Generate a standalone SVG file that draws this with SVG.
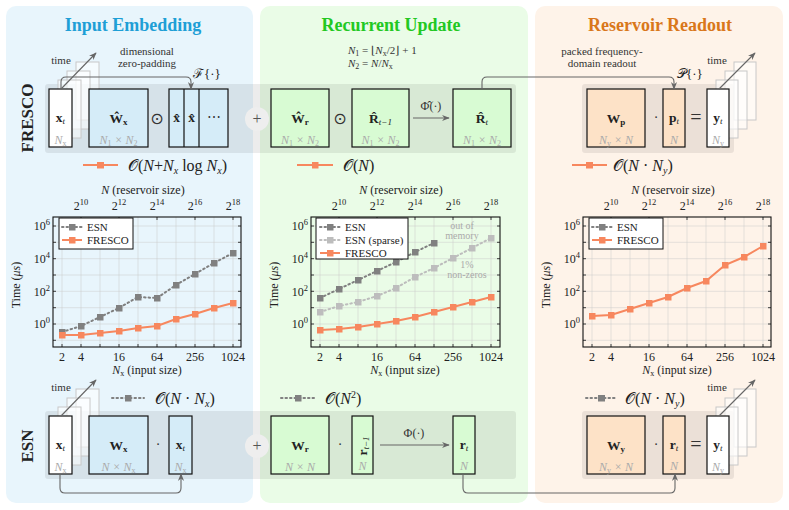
<svg xmlns="http://www.w3.org/2000/svg" width="789" height="510" viewBox="0 0 789 510">
<style>
text{font-family:"Liberation Serif","DejaVu Serif",serif;fill:#222}
.title{font-size:18px;font-weight:bold;text-anchor:middle}
.row{font-size:17px;font-weight:bold;text-anchor:middle}
.lbl{font-size:11px;fill:#333}
.sym{font-size:13.5px;font-weight:bold;text-anchor:middle}
.sub{font-size:9px;font-weight:normal;font-style:italic}
.subb{font-size:9px;font-weight:bold}
.dim{font-size:12px;font-style:italic;fill:#aaa;text-anchor:middle}
.ds{font-size:8px;font-style:normal}
.op{font-size:14px;text-anchor:middle;fill:#333}
.odot{font-family:"DejaVu Sans",sans-serif;font-size:16px;text-anchor:middle;fill:#333}
.cx{font-size:16px;fill:#222}
.it{font-style:italic}
.cs{font-size:10px;font-style:italic}
.tk{font-size:12px}
.tkm{font-size:12px;text-anchor:middle}
.sup{font-size:8.5px}
.leg{font-size:11px}
.ann{font-size:10px;fill:#aaa;text-anchor:middle}
.box{stroke:#111;stroke-width:1.2}
.bw{fill:#fff}
.bb{fill:#d5ecf8}
.bg{fill:#d8fbd3}
.bo{fill:#fde2c7}
.ghost{fill:#fff;fill-opacity:.55;stroke:#c8c8c8;stroke-width:1}
.band{fill:#000;fill-opacity:.075}
.conn{fill:none;stroke:#666;stroke-width:1.1}
.grid{fill:none;stroke:#c9c9c9;stroke-opacity:.6;stroke-width:.8}
.frame{fill:none;stroke:#111;stroke-width:1.1}
.tick{fill:none;stroke:#111;stroke-width:.8}
.fr{fill:none;stroke:#f7875e;stroke-width:2}
.esn{fill:none;stroke:#808080;stroke-width:2;stroke-dasharray:1.5 3;stroke-linecap:round}
.esp{fill:none;stroke:#bdbdbd;stroke-width:2;stroke-dasharray:1.5 3;stroke-linecap:round}
.lgbox{fill:#fff;stroke:#111;stroke-width:1}
</style>
<defs>
<marker id="arr" viewBox="0 0 10 10" refX="9" refY="5" markerWidth="7" markerHeight="7" orient="auto"><path d="M0,1 L10,5 L0,9 L3,5 z" fill="#666"/></marker>
<marker id="mO" viewBox="0 0 8 8" refX="4" refY="4" markerWidth="7" markerHeight="7" markerUnits="userSpaceOnUse"><rect width="8" height="8" fill="#f7875e"/></marker>
<marker id="mE" viewBox="0 0 8 8" refX="4" refY="4" markerWidth="7" markerHeight="7" markerUnits="userSpaceOnUse"><rect width="8" height="8" fill="#808080"/></marker>
<marker id="mS" viewBox="0 0 8 8" refX="4" refY="4" markerWidth="7" markerHeight="7" markerUnits="userSpaceOnUse"><rect width="8" height="8" fill="#bdbdbd"/></marker>
</defs>

<!-- panels -->
<g id="panels">
<rect x="6" y="6" width="247" height="497" rx="10" fill="#e8f5fc"/>
<rect x="260" y="6" width="268" height="497" rx="10" fill="#eafce7"/>
<rect x="535" y="6" width="248" height="497" rx="10" fill="#fef3e9"/>
<text class="title" x="133" y="31" style="fill:#1e9fd6">Input Embedding</text>
<text class="title" x="391" y="31" style="fill:#22c822">Recurrent Update</text>
<text class="title" x="660" y="31" style="fill:#d9771a">Reservoir Readout</text>
</g>

<!-- bands -->
<g id="bands">
<rect class="band" x="45" y="84" width="471" height="69" rx="3"/>
<rect class="band" x="582" y="84" width="152" height="69" rx="3"/>
<rect class="band" x="45" y="411" width="471" height="68" rx="3"/>
<rect class="band" x="582" y="411" width="152" height="68" rx="3"/>
<circle cx="257" cy="119" r="12" fill="#eeeeee"/>
<text x="257" y="124" class="op" style="fill:#555;font-size:16px">+</text>
<circle cx="257" cy="446" r="12" fill="#eeeeee"/>
<text x="257" y="451" class="op" style="fill:#555;font-size:16px">+</text>
</g>

<text class="row" transform="translate(33,118) rotate(-90)">FRESCO</text>
<text class="row" transform="translate(33,446) rotate(-90)">ESN</text>

<!-- FRESCO row -->
<g id="fresco-xt">
<rect class="ghost" x="76" y="62" width="23" height="58"/>
<rect class="ghost" x="67" y="71" width="23" height="58"/>
<rect class="ghost" x="58" y="80" width="23" height="58"/>
<rect class="box bw" x="49" y="89" width="23" height="58"/>
<text class="sym" x="60.5" y="122">x<tspan class="sub" dy="2">t</tspan></text>
<text class="dim" x="60.5" y="144">N<tspan class="ds" dy="2">x</tspan></text>
<text class="lbl" x="61" y="64" text-anchor="middle">time</text>
</g>
<g id="fresco-Wx">
<rect class="box bb" x="89" y="89" width="59" height="58"/>
<text class="sym" x="118.5" y="123">Ŵ<tspan class="subb" dy="2">x</tspan></text>
<text class="dim" x="118.5" y="144">N<tspan class="ds" dy="2">1</tspan><tspan dy="-2"> × N</tspan><tspan class="ds" dy="2">2</tspan></text>
</g>
<text class="odot" x="157" y="124">⊙</text>
<g id="fresco-xhat">
<rect class="box bb" x="169" y="89" width="59" height="58"/>
<path d="M184,89V147M199,89V147" stroke="#111" stroke-width="1.2"/>
<text class="sym" x="176.5" y="122">x̂</text>
<text class="sym" x="191.5" y="122">x̂</text>
<text class="op" x="213.5" y="122">⋯</text>
</g>
<text class="lbl" x="147" y="55" text-anchor="middle">dimensional</text>
<text class="lbl" x="147" y="67" text-anchor="middle">zero-padding</text>
<text class="cx" x="193" y="78" style="font-size:13px">ℱ{·}</text>

<g id="fresco-Wr">
<rect class="box bg" x="271" y="89" width="58" height="58"/>
<text class="sym" x="300" y="123">Ŵ<tspan class="subb" dy="2">r</tspan></text>
<text class="dim" x="300" y="144">N<tspan class="ds" dy="2">1</tspan><tspan dy="-2"> × N</tspan><tspan class="ds" dy="2">2</tspan></text>
</g>
<text class="odot" x="340" y="124">⊙</text>
<g id="fresco-Rprev">
<rect class="box bg" x="352" y="89" width="57" height="58"/>
<text class="sym" x="380.5" y="123">R̂<tspan class="sub" dy="2">t−1</tspan></text>
<text class="dim" x="380.5" y="144">N<tspan class="ds" dy="2">1</tspan><tspan dy="-2"> × N</tspan><tspan class="ds" dy="2">2</tspan></text>
</g>
<text class="lbl" x="431" y="110" text-anchor="middle" style="font-size:12px">Φ̂(·)</text>
<g id="fresco-Rt">
<rect class="box bg" x="453" y="89" width="58" height="58"/>
<text class="sym" x="482" y="123">R̂<tspan class="sub" dy="2">t</tspan></text>
<text class="dim" x="482" y="144">N<tspan class="ds" dy="2">1</tspan><tspan dy="-2"> × N</tspan><tspan class="ds" dy="2">2</tspan></text>
</g>
<text class="lbl" x="348" y="54"><tspan class="it">N</tspan><tspan class="ds" dy="2">1</tspan><tspan dy="-2"> = ⌊</tspan><tspan class="it">N</tspan><tspan class="ds" dy="2">x</tspan><tspan dy="-2">/2⌋ + 1</tspan></text>
<text class="lbl" x="348" y="67"><tspan class="it">N</tspan><tspan class="ds" dy="2">2</tspan><tspan dy="-2"> = </tspan><tspan class="it">N</tspan>/<tspan class="it">N</tspan><tspan class="ds" dy="2">x</tspan></text>

<g id="fresco-Wp">
<rect class="box bo" x="587" y="89" width="58" height="58"/>
<text class="sym" x="616" y="123">W<tspan class="subb" dy="2">p</tspan></text>
<text class="dim" x="616" y="144">N<tspan class="ds" dy="2">y</tspan><tspan dy="-2"> × N</tspan></text>
</g>
<text class="op" x="656" y="122">·</text>
<g id="fresco-pt">
<rect class="box bo" x="663" y="89" width="22" height="58"/>
<text class="sym" x="674" y="122">p<tspan class="sub" dy="2">t</tspan></text>
<text class="dim" x="674" y="144">N</text>
</g>
<text class="op" x="696" y="124" style="font-size:20px">=</text>
<g id="fresco-yt">
<rect class="ghost" x="734" y="62" width="22" height="58"/>
<rect class="ghost" x="725" y="71" width="22" height="58"/>
<rect class="ghost" x="716" y="80" width="22" height="58"/>
<rect class="box bw" x="707" y="89" width="22" height="58"/>
<text class="sym" x="718" y="122">y<tspan class="sub" dy="2">t</tspan></text>
<text class="dim" x="718" y="144">N<tspan class="ds" dy="2">y</tspan></text>
<text class="lbl" x="717" y="64" text-anchor="middle">time</text>
</g>
<text class="lbl" x="602" y="55" text-anchor="middle">packed frequency-</text>
<text class="lbl" x="602" y="67" text-anchor="middle">domain readout</text>
<text class="cx" x="677" y="78" style="font-size:13px">𝒫{·}</text>

<!-- ESN row -->
<g id="esn-xt">
<rect class="ghost" x="76" y="389" width="23" height="58"/>
<rect class="ghost" x="67" y="398" width="23" height="58"/>
<rect class="ghost" x="58" y="407" width="23" height="58"/>
<rect class="box bw" x="49" y="416" width="23" height="58"/>
<text class="sym" x="60.5" y="449">x<tspan class="sub" dy="2">t</tspan></text>
<text class="dim" x="60.5" y="471">N<tspan class="ds" dy="2">x</tspan></text>
<text class="lbl" x="61" y="391" text-anchor="middle">time</text>
</g>
<g id="esn-Wx">
<rect class="box bb" x="89" y="416" width="59" height="58"/>
<text class="sym" x="118.5" y="450">W<tspan class="subb" dy="2">x</tspan></text>
<text class="dim" x="118.5" y="471">N × N<tspan class="ds" dy="2">x</tspan></text>
</g>
<text class="op" x="158" y="449">·</text>
<g id="esn-xt2">
<rect class="box bb" x="169" y="416" width="23" height="58"/>
<text class="sym" x="180.5" y="449">x<tspan class="sub" dy="2">t</tspan></text>
<text class="dim" x="180.5" y="471">N<tspan class="ds" dy="2">x</tspan></text>
</g>
<g id="esn-Wr">
<rect class="box bg" x="271" y="416" width="58" height="58"/>
<text class="sym" x="300" y="450">W<tspan class="subb" dy="2">r</tspan></text>
<text class="dim" x="300" y="471">N × N</text>
</g>
<text class="op" x="340" y="449">·</text>
<g id="esn-rprev">
<rect class="box bg" x="352" y="416" width="21" height="58"/>
<text class="sym" transform="translate(366.5,446) rotate(-90)">r<tspan class="sub" dy="2">t−1</tspan></text>
<text class="dim" x="362.5" y="470">N</text>
</g>
<text class="lbl" x="414" y="437" text-anchor="middle" style="font-size:12px">Φ(·)</text>
<g id="esn-rt">
<rect class="box bg" x="453" y="416" width="22" height="58"/>
<text class="sym" x="464" y="449">r<tspan class="sub" dy="2">t</tspan></text>
<text class="dim" x="464" y="470">N</text>
</g>
<g id="esn-Wy">
<rect class="box bo" x="587" y="416" width="58" height="58"/>
<text class="sym" x="616" y="450">W<tspan class="subb" dy="2">y</tspan></text>
<text class="dim" x="616" y="471">N<tspan class="ds" dy="2">y</tspan><tspan dy="-2"> × N</tspan></text>
</g>
<text class="op" x="656" y="449">·</text>
<g id="esn-rt2">
<rect class="box bo" x="663" y="416" width="22" height="58"/>
<text class="sym" x="674" y="449">r<tspan class="sub" dy="2">t</tspan></text>
<text class="dim" x="674" y="470">N</text>
</g>
<text class="op" x="696" y="451" style="font-size:20px">=</text>
<g id="esn-yt">
<rect class="ghost" x="734" y="389" width="22" height="58"/>
<rect class="ghost" x="725" y="398" width="22" height="58"/>
<rect class="ghost" x="716" y="407" width="22" height="58"/>
<rect class="box bw" x="707" y="416" width="22" height="58"/>
<text class="sym" x="718" y="449">y<tspan class="sub" dy="2">t</tspan></text>
<text class="dim" x="718" y="471">N<tspan class="ds" dy="2">y</tspan></text>
<text class="lbl" x="717" y="391" text-anchor="middle">time</text>
</g>

<!-- connectors -->
<g id="connectors">
<path class="conn" d="M61,89L96,53" marker-end="url(#arr)"/>
<path class="conn" d="M719,89L755,53" marker-end="url(#arr)"/>
<path class="conn" d="M61,416L96,380" marker-end="url(#arr)"/>
<path class="conn" d="M719,416L755,380" marker-end="url(#arr)"/>
<path class="conn" d="M61,89V82Q61,77 66,77H186Q191,77 191,82V89" marker-end="url(#arr)"/>
<path class="conn" d="M413,118H449" marker-end="url(#arr)"/>
<path class="conn" d="M482,89V82Q482,77 487,77H669Q674,77 674,82V89" marker-end="url(#arr)"/>
<path class="conn" d="M60,474V488Q60,493 65,493H176Q181,493 181,488V474" marker-end="url(#arr)"/>
<path class="conn" d="M380,445H449" marker-end="url(#arr)"/>
<path class="conn" d="M463,474V488Q463,493 468,493H670Q675,493 675,488V474" marker-end="url(#arr)"/>
</g>

<!-- complexity legends -->
<g id="complexity">
<polyline class="fr" points="83,165 100.5,165 118,165" marker-mid="url(#mO)"/>
<text class="cx" x="128" y="171">𝒪(<tspan class="it">N</tspan>+<tspan class="it">N</tspan><tspan class="cs" dy="3">x</tspan><tspan dy="-3"> log </tspan><tspan class="it">N</tspan><tspan class="cs" dy="3">x</tspan><tspan dy="-3">)</tspan></text>
<polyline class="fr" points="297,165 315,165 333,165" marker-mid="url(#mO)"/>
<text class="cx" x="343" y="171">𝒪(<tspan class="it">N</tspan>)</text>
<polyline class="fr" points="572,165 589.5,165 607,165" marker-mid="url(#mO)"/>
<text class="cx" x="613" y="171">𝒪(<tspan class="it">N</tspan> · <tspan class="it">N</tspan><tspan class="cs" dy="3">y</tspan><tspan dy="-3">)</tspan></text>
<polyline class="esn" points="112,398 128,398 144,398" marker-mid="url(#mE)"/>
<text class="cx" x="155" y="404">𝒪(<tspan class="it">N</tspan> · <tspan class="it">N</tspan><tspan class="cs" dy="3">x</tspan><tspan dy="-3">)</tspan></text>
<polyline class="esn" points="281,398 298,398 315,398" marker-mid="url(#mE)"/>
<text class="cx" x="325" y="404">𝒪(<tspan class="it">N</tspan><tspan dy="-6" style="font-size:10px">2</tspan><tspan dy="6">)</tspan></text>
<polyline class="esn" points="586,398 601.5,398 617,398" marker-mid="url(#mE)"/>
<text class="cx" x="625" y="404">𝒪(<tspan class="it">N</tspan> · <tspan class="it">N</tspan><tspan class="cs" dy="3">y</tspan><tspan dy="-3">)</tspan></text>
</g>

<!-- plots -->
<g id="plot-left">
<path class="grid" d="M62,217V347M81,217V347M100,217V347M119,217V347M138,217V347M157,217V347M176,217V347M195,217V347M214,217V347M233,217V347M53,340.3H241M53,324H241M53,307.7H241M53,291.3H241M53,275H241M53,258.7H241M53,242.3H241M53,226H241"/>
<path class="tick" d="M62,347v-3M81,347v-3M100,347v-3M119,347v-3M138,347v-3M157,347v-3M176,347v-3M195,347v-3M214,347v-3M233,347v-3M81,217v3M119,217v3M157,217v3M195,217v3M233,217v3M53,340.3h3M53,324h3M53,307.7h3M53,291.3h3M53,275h3M53,258.7h3M53,242.3h3M53,226h3M241,340.3h-3M241,324h-3M241,307.7h-3M241,291.3h-3M241,275h-3M241,258.7h-3M241,242.3h-3M241,226h-3"/>
<rect class="frame" x="53" y="217" width="188" height="130"/>
<text class="tk" x="50" y="230" text-anchor="end">10<tspan class="sup" dy="-5">6</tspan></text>
<text class="tk" x="50" y="263" text-anchor="end">10<tspan class="sup" dy="-5">4</tspan></text>
<text class="tk" x="50" y="295.5" text-anchor="end">10<tspan class="sup" dy="-5">2</tspan></text>
<text class="tk" x="50" y="328" text-anchor="end">10<tspan class="sup" dy="-5">0</tspan></text>
<text class="tkm" transform="translate(20,285) rotate(-90)">Time (<tspan class="it">μs</tspan>)</text>
<text class="tkm" x="143" y="194"><tspan class="it">N</tspan> (reservoir size)</text>
<text class="tkm" x="81" y="210">2<tspan class="sup" dy="-5">10</tspan></text>
<text class="tkm" x="119" y="210">2<tspan class="sup" dy="-5">12</tspan></text>
<text class="tkm" x="157" y="210">2<tspan class="sup" dy="-5">14</tspan></text>
<text class="tkm" x="195" y="210">2<tspan class="sup" dy="-5">16</tspan></text>
<text class="tkm" x="233" y="210">2<tspan class="sup" dy="-5">18</tspan></text>
<text class="tkm" x="62" y="361">2</text>
<text class="tkm" x="81" y="361">4</text>
<text class="tkm" x="119" y="361">16</text>
<text class="tkm" x="157" y="361">64</text>
<text class="tkm" x="195" y="361">256</text>
<text class="tkm" x="233" y="361">1024</text>
<text class="tkm" x="147" y="374"><tspan class="it">N</tspan><tspan class="ds" dy="2">x</tspan><tspan dy="-2"> (input size)</tspan></text>
<polyline class="esn" points="62,332 81,326 100,317 119,308 138,297 157,298 176,285 195,274 214,263 233,253" marker-start="url(#mE)" marker-mid="url(#mE)" marker-end="url(#mE)"/>
<polyline class="fr" points="62,335 81,335 100,333 119,331 138,328 157,326 176,319 195,314 214,308 233,303" marker-start="url(#mO)" marker-mid="url(#mO)" marker-end="url(#mO)"/>
<rect class="lgbox" x="59" y="218" width="74" height="31"/>
<polyline class="esn" points="62,227 72,227 82,227" marker-mid="url(#mE)"/>
<text class="leg" x="87" y="231">ESN</text>
<polyline class="fr" points="62,240 72,240 82,240" marker-mid="url(#mO)"/>
<text class="leg" x="87" y="244">FRESCO</text>
</g>

<g id="plot-middle" transform="translate(258,0)">
<path class="grid" d="M62,217V347M81,217V347M100,217V347M119,217V347M138,217V347M157,217V347M176,217V347M195,217V347M214,217V347M233,217V347M53,340.3H242M53,324H242M53,307.7H242M53,291.3H242M53,275H242M53,258.7H242M53,242.3H242M53,226H242"/>
<path class="tick" d="M62,347v-3M81,347v-3M100,347v-3M119,347v-3M138,347v-3M157,347v-3M176,347v-3M195,347v-3M214,347v-3M233,347v-3M81,217v3M119,217v3M157,217v3M195,217v3M233,217v3M53,340.3h3M53,324h3M53,307.7h3M53,291.3h3M53,275h3M53,258.7h3M53,242.3h3M53,226h3M242,340.3h-3M242,324h-3M242,307.7h-3M242,291.3h-3M242,275h-3M242,258.7h-3M242,242.3h-3M242,226h-3"/>
<rect class="frame" x="53" y="217" width="189" height="130"/>
<text class="tk" x="50" y="230" text-anchor="end">10<tspan class="sup" dy="-5">6</tspan></text>
<text class="tk" x="50" y="263" text-anchor="end">10<tspan class="sup" dy="-5">4</tspan></text>
<text class="tk" x="50" y="295.5" text-anchor="end">10<tspan class="sup" dy="-5">2</tspan></text>
<text class="tk" x="50" y="328" text-anchor="end">10<tspan class="sup" dy="-5">0</tspan></text>
<text class="tkm" transform="translate(20,285) rotate(-90)">Time (<tspan class="it">μs</tspan>)</text>
<text class="tkm" x="143" y="194"><tspan class="it">N</tspan> (reservoir size)</text>
<text class="tkm" x="81" y="210">2<tspan class="sup" dy="-5">10</tspan></text>
<text class="tkm" x="119" y="210">2<tspan class="sup" dy="-5">12</tspan></text>
<text class="tkm" x="157" y="210">2<tspan class="sup" dy="-5">14</tspan></text>
<text class="tkm" x="195" y="210">2<tspan class="sup" dy="-5">16</tspan></text>
<text class="tkm" x="233" y="210">2<tspan class="sup" dy="-5">18</tspan></text>
<text class="tkm" x="62" y="361">2</text>
<text class="tkm" x="81" y="361">4</text>
<text class="tkm" x="119" y="361">16</text>
<text class="tkm" x="157" y="361">64</text>
<text class="tkm" x="195" y="361">256</text>
<text class="tkm" x="233" y="361">1024</text>
<text class="tkm" x="147" y="374"><tspan class="it">N</tspan><tspan class="ds" dy="2">x</tspan><tspan dy="-2"> (input size)</tspan></text>
<text class="ann" x="204" y="229">out of</text>
<text class="ann" x="204" y="239">memory</text>
<text class="ann" x="209" y="268">1%</text>
<text class="ann" x="209" y="278">non-zeros</text>
<polyline class="esp" points="62,312 81,306 100,302 119,296 138,288 157,277 176,268 195,258 214,248 233,238" marker-start="url(#mS)" marker-mid="url(#mS)" marker-end="url(#mS)"/>
<polyline class="esn" points="62,298 81,289 100,280 119,271 138,262 157,252 176,243" marker-start="url(#mE)" marker-mid="url(#mE)" marker-end="url(#mE)"/>
<polyline class="fr" points="62,330 81,329 100,327 119,324 138,321 157,317 176,312 195,307 214,302 233,297" marker-start="url(#mO)" marker-mid="url(#mO)" marker-end="url(#mO)"/>
<rect class="lgbox" x="58" y="218" width="92" height="41"/>
<polyline class="esn" points="62,227 72,227 82,227" marker-mid="url(#mE)"/>
<text class="leg" x="87" y="231">ESN</text>
<polyline class="esp" points="62,240 72,240 82,240" marker-mid="url(#mS)"/>
<text class="leg" x="87" y="244">ESN (sparse)</text>
<polyline class="fr" points="62,253 72,253 82,253" marker-mid="url(#mO)"/>
<text class="leg" x="87" y="257">FRESCO</text>
</g>

<g id="plot-right" transform="translate(530,0)">
<path class="grid" d="M62,217V347M81,217V347M100,217V347M119,217V347M138,217V347M157,217V347M176,217V347M195,217V347M214,217V347M233,217V347M53,340.3H241M53,324H241M53,307.7H241M53,291.3H241M53,275H241M53,258.7H241M53,242.3H241M53,226H241"/>
<path class="tick" d="M62,347v-3M81,347v-3M100,347v-3M119,347v-3M138,347v-3M157,347v-3M176,347v-3M195,347v-3M214,347v-3M233,347v-3M81,217v3M119,217v3M157,217v3M195,217v3M233,217v3M53,340.3h3M53,324h3M53,307.7h3M53,291.3h3M53,275h3M53,258.7h3M53,242.3h3M53,226h3M241,340.3h-3M241,324h-3M241,307.7h-3M241,291.3h-3M241,275h-3M241,258.7h-3M241,242.3h-3M241,226h-3"/>
<rect class="frame" x="53" y="217" width="188" height="130"/>
<text class="tk" x="50" y="230" text-anchor="end">10<tspan class="sup" dy="-5">6</tspan></text>
<text class="tk" x="50" y="263" text-anchor="end">10<tspan class="sup" dy="-5">4</tspan></text>
<text class="tk" x="50" y="295.5" text-anchor="end">10<tspan class="sup" dy="-5">2</tspan></text>
<text class="tk" x="50" y="328" text-anchor="end">10<tspan class="sup" dy="-5">0</tspan></text>
<text class="tkm" transform="translate(20,285) rotate(-90)">Time (<tspan class="it">μs</tspan>)</text>
<text class="tkm" x="143" y="194"><tspan class="it">N</tspan> (reservoir size)</text>
<text class="tkm" x="81" y="210">2<tspan class="sup" dy="-5">10</tspan></text>
<text class="tkm" x="119" y="210">2<tspan class="sup" dy="-5">12</tspan></text>
<text class="tkm" x="157" y="210">2<tspan class="sup" dy="-5">14</tspan></text>
<text class="tkm" x="195" y="210">2<tspan class="sup" dy="-5">16</tspan></text>
<text class="tkm" x="233" y="210">2<tspan class="sup" dy="-5">18</tspan></text>
<text class="tkm" x="62" y="361">2</text>
<text class="tkm" x="81" y="361">4</text>
<text class="tkm" x="119" y="361">16</text>
<text class="tkm" x="157" y="361">64</text>
<text class="tkm" x="195" y="361">256</text>
<text class="tkm" x="233" y="361">1024</text>
<text class="tkm" x="147" y="374"><tspan class="it">N</tspan><tspan class="ds" dy="2">x</tspan><tspan dy="-2"> (input size)</tspan></text>
<polyline class="fr" points="62,316 81,315 100,309 119,303 138,297 157,288 176,281 195,265 214,257 233,246" marker-start="url(#mO)" marker-mid="url(#mO)" marker-end="url(#mO)"/>
<rect class="lgbox" x="59" y="218" width="74" height="31"/>
<polyline class="esn" points="62,227 72,227 82,227" marker-mid="url(#mE)"/>
<text class="leg" x="87" y="231">ESN</text>
<polyline class="fr" points="62,240 72,240 82,240" marker-mid="url(#mO)"/>
<text class="leg" x="87" y="244">FRESCO</text>
</g>
</svg>
